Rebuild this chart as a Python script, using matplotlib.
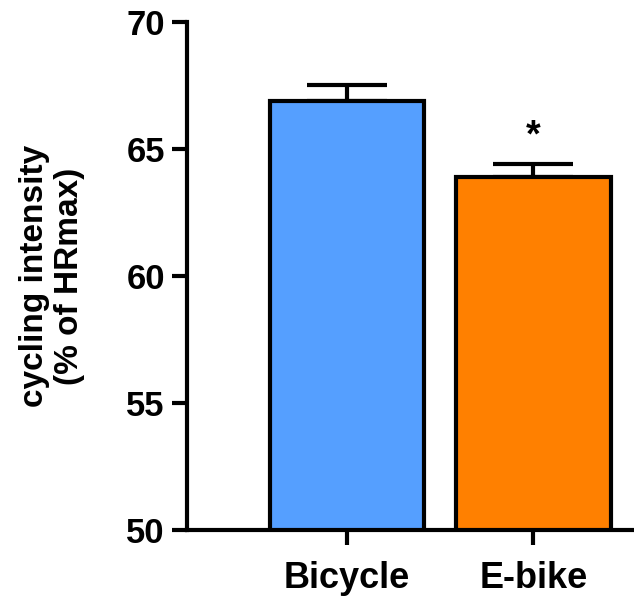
import matplotlib
matplotlib.use("Agg")
from matplotlib import pyplot as plt

# data
groups = ["Bicycle", "E-bike"]
means = [66.9, 63.9]
errors = [0.6, 0.5]
bar_colors = ["#559FFF", "#FF8000"]
signif = ["", "*"]

plt.rcParams['font.family'] = ['Liberation Sans', 'DejaVu Sans']
plt.rcParams['font.weight'] = 'bold'

fig = plt.figure(figsize=(6.34, 6.05), dpi=100)
ax = fig.add_axes([0.295, 0.124, 0.705, 0.8397])

xs = list(range(len(groups)))
ax.bar(xs, means, width=0.83, color=bar_colors, edgecolor='black',
       linewidth=3, zorder=2)
ax.errorbar(xs, means, yerr=[[0, 0], errors], fmt='none', ecolor='black',
            elinewidth=3, capsize=29, capthick=3, zorder=1)

# significance marks above the error bars
for x, m, e, s in zip(xs, means, errors, signif):
    if s:
        ax.text(x, m + e + 0.4, s, ha='center', va='bottom',
                fontsize=27, fontweight='bold')

ax.set_ylim(50, 70)
ax.set_xlim(-0.86, 1.54)
ax.set_yticks([50, 55, 60, 65, 70])
ax.set_xticks(xs)
ax.set_xticklabels(groups)

for side in ['top', 'right']:
    ax.spines[side].set_visible(False)
for side in ['left', 'bottom']:
    ax.spines[side].set_linewidth(3)

ax.tick_params(axis='both', width=3, length=11, pad=5)
ax.tick_params(axis='y', labelsize=25)
ax.tick_params(axis='x', labelsize=26, pad=11)
ax.set_ylabel("cycling intensity\n(% of HRmax)", fontsize=24,
              fontweight='bold', labelpad=30, linespacing=1.15)

plt.savefig('out.png', dpi=100)
